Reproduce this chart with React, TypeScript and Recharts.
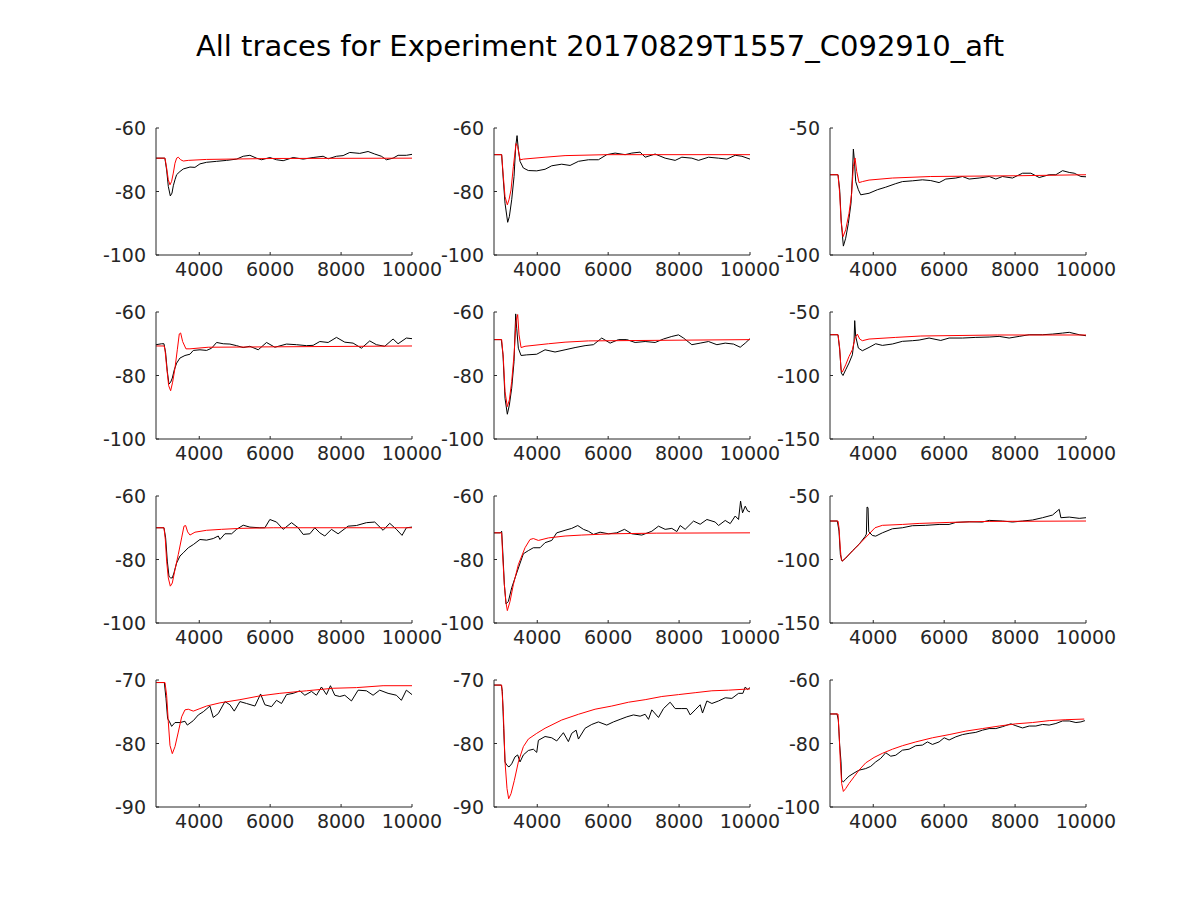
import React from 'react';
import { LineChart, Line, XAxis, YAxis } from 'recharts';

type Pt = [number, number];

// ---------- data (time, membrane potential) ----------
const black1: Pt[] = [[2780,-69.5],[3030,-69.5],[3080,-73.2],[3127,-78.4],[3184,-81.4],[3231,-80.5],[3268,-78.2],[3315,-76.3],[3362,-74.7],[3456,-73.7],[3550,-72.9],[3738,-72.3],[3878,-72.4],[4020,-71.3],[4207,-70.8],[4490,-70.5],[4771,-70.2],[5053,-69.8],[5240,-68.9],[5428,-68.6],[5616,-69.5],[5757,-70.0],[5991,-69.3],[6179,-70.0],[6367,-70.3],[6649,-69.3],[6931,-69.8],[7212,-69.3],[7494,-68.9],[7635,-69.7],[7870,-68.9],[8057,-68.7],[8245,-67.7],[8527,-68.0],[8761,-67.4],[8949,-68.2],[9137,-68.9],[9278,-70.0],[9466,-69.5],[9607,-68.6],[9841,-68.6],[10000,-68.3]];
const red1: Pt[] = [[2780,-69.5],[3034,-69.5],[3080,-72.6],[3127,-76.3],[3174,-77.9],[3221,-76.8],[3268,-74.2],[3315,-71.1],[3362,-69.5],[3409,-69.2],[3475,-70.0],[3550,-70.4],[3690,-70.2],[4207,-69.9],[6085,-69.6],[10000,-69.5]];

const black2: Pt[] = [[2780,-68.4],[2996,-68.4],[3043,-76.3],[3091,-83.7],[3166,-89.7],[3213,-87.9],[3279,-82.6],[3345,-75.3],[3392,-65.8],[3430,-62.4],[3467,-66.8],[3514,-70.5],[3608,-72.6],[3749,-73.4],[3985,-73.5],[4220,-73.0],[4408,-71.9],[4690,-71.4],[4925,-71.8],[5161,-70.5],[5443,-70.0],[5725,-70.0],[5960,-68.4],[6196,-67.9],[6478,-68.4],[6666,-67.9],[6901,-67.6],[7043,-69.2],[7325,-68.2],[7607,-69.5],[7889,-70.2],[8078,-69.2],[8360,-69.5],[8548,-70.2],[8830,-69.2],[9113,-69.5],[9348,-69.8],[9583,-68.6],[9772,-68.9],[10000,-69.8]];
const red2: Pt[] = [[2780,-68.4],[2996,-68.4],[3043,-75.3],[3091,-81.6],[3156,-84.2],[3203,-82.6],[3260,-79.5],[3326,-72.1],[3401,-64.9],[3448,-65.8],[3514,-70.0],[3608,-69.8],[4220,-69.2],[4784,-68.7],[5960,-68.4],[10000,-68.4]];

const black3: Pt[] = [[2780,-68.4],[3006,-68.4],[3053,-74.3],[3100,-87.5],[3157,-96.5],[3222,-93.4],[3298,-87.5],[3373,-79.6],[3411,-69.1],[3439,-58.3],[3467,-62.5],[3505,-71.1],[3580,-74.3],[3646,-76.3],[3881,-75.7],[4116,-74.3],[4351,-73.3],[4634,-71.9],[4822,-71.1],[5104,-70.8],[5387,-70.4],[5622,-70.7],[5857,-71.5],[6045,-70.1],[6328,-69.7],[6516,-69.1],[6704,-70.1],[6986,-69.7],[7269,-69.1],[7457,-70.1],[7645,-69.1],[7927,-69.7],[8210,-67.8],[8445,-67.8],[8680,-69.5],[8962,-68.4],[9150,-68.4],[9339,-66.8],[9527,-67.5],[9668,-67.8],[9856,-69.1],[10000,-69.2]];
const red3: Pt[] = [[2780,-68.4],[3006,-68.4],[3053,-75.7],[3091,-86.2],[3147,-92.8],[3222,-90.1],[3316,-83.6],[3392,-75.7],[3439,-65.1],[3486,-61.8],[3533,-67.1],[3599,-71.5],[3693,-71.1],[3881,-70.5],[4540,-69.7],[5622,-69.1],[8022,-68.8],[10000,-68.4]];

const black4: Pt[] = [[2780,-70.3],[2940,-70.0],[3005,-70.0],[3052,-72.9],[3099,-78.7],[3146,-82.7],[3193,-82.1],[3240,-80.8],[3296,-78.2],[3362,-76.1],[3456,-74.5],[3597,-73.7],[3738,-73.3],[3832,-72.1],[4020,-71.9],[4207,-72.1],[4348,-71.4],[4489,-69.6],[4677,-70.0],[4865,-70.1],[5052,-70.6],[5240,-71.2],[5428,-70.8],[5663,-71.9],[5897,-69.6],[6132,-71.1],[6461,-70.1],[6743,-70.3],[7024,-70.6],[7212,-70.5],[7400,-69.3],[7635,-69.6],[7870,-68.0],[8104,-69.5],[8339,-69.8],[8574,-71.4],[8808,-69.1],[8996,-70.3],[9231,-70.8],[9466,-68.5],[9607,-70.0],[9841,-68.2],[10000,-68.4]];
const red4: Pt[] = [[2780,-70.7],[3010,-70.7],[3034,-71.9],[3080,-77.2],[3137,-83.2],[3193,-84.8],[3249,-82.1],[3315,-77.7],[3381,-71.9],[3437,-66.9],[3475,-66.6],[3531,-69.3],[3625,-71.6],[3738,-71.6],[4254,-71.1],[10000,-70.7]];

const black5: Pt[] = [[2780,-68.7],[2987,-68.7],[3034,-73.5],[3091,-87.2],[3156,-92.2],[3213,-89.3],[3279,-84.0],[3345,-75.6],[3392,-60.6],[3420,-65.1],[3467,-71.4],[3543,-73.7],[3702,-73.5],[3985,-73.3],[4220,-71.9],[4502,-72.6],[4784,-71.9],[5067,-71.2],[5349,-70.6],[5584,-70.3],[5819,-68.2],[6055,-69.8],[6290,-68.7],[6525,-68.7],[6760,-69.6],[7043,-69.3],[7325,-69.6],[7560,-68.5],[7795,-67.7],[7984,-67.2],[8125,-68.2],[8360,-70.3],[8595,-69.8],[8830,-69.3],[9066,-70.3],[9301,-69.8],[9536,-70.1],[9724,-71.1],[9866,-69.8],[10000,-68.4]];
const red5: Pt[] = [[2780,-68.7],[2996,-68.7],[3043,-74.5],[3091,-85.1],[3156,-89.8],[3213,-87.7],[3279,-81.9],[3345,-73.5],[3401,-62.9],[3448,-60.8],[3486,-67.2],[3543,-71.2],[3655,-70.8],[4314,-70.0],[4784,-69.5],[5443,-69.1],[10000,-68.7]];

const black6: Pt[] = [[2780,-67.9],[3006,-67.9],[3053,-79.7],[3100,-98.1],[3147,-100.0],[3222,-95.5],[3316,-90.2],[3411,-83.7],[3458,-73.1],[3477,-56.8],[3505,-69.2],[3580,-78.4],[3693,-80.5],[3881,-77.9],[4069,-75.0],[4257,-76.3],[4540,-75.2],[4822,-73.1],[5104,-72.6],[5293,-72.1],[5575,-70.5],[5904,-72.4],[6139,-70.5],[6516,-70.5],[6892,-70.0],[7269,-69.7],[7551,-69.2],[7833,-70.5],[8116,-69.2],[8398,-67.9],[8774,-67.9],[9056,-67.4],[9339,-66.6],[9527,-66.0],[9809,-67.9],[10000,-68.7]];
const red6: Pt[] = [[2780,-67.9],[3006,-67.9],[3053,-78.4],[3091,-95.5],[3128,-97.3],[3222,-91.6],[3316,-85.0],[3411,-79.7],[3486,-70.5],[3552,-67.4],[3618,-71.3],[3693,-72.6],[3881,-71.3],[4634,-70.0],[5340,-68.9],[7504,-68.1],[10000,-68.1]];

const black7: Pt[] = [[2780,-70.0],[3005,-70.0],[3052,-73.2],[3099,-80.5],[3146,-85.3],[3193,-85.8],[3240,-85.8],[3287,-84.2],[3362,-81.1],[3456,-78.9],[3550,-77.9],[3691,-76.3],[3832,-75.3],[4020,-73.7],[4207,-73.9],[4395,-73.4],[4536,-72.6],[4583,-73.7],[4724,-71.9],[4912,-71.9],[5052,-70.5],[5240,-69.2],[5428,-69.8],[5710,-70.0],[5851,-70.0],[5991,-67.4],[6179,-68.2],[6367,-70.5],[6602,-68.4],[6790,-70.0],[6931,-72.1],[7118,-71.9],[7259,-70.0],[7400,-71.6],[7541,-72.6],[7729,-70.5],[7916,-71.9],[8198,-69.5],[8433,-69.3],[8715,-68.4],[8949,-68.2],[9184,-70.8],[9372,-68.6],[9560,-70.5],[9719,-72.4],[9841,-70.0],[10000,-69.8]];
const red7: Pt[] = [[2780,-70.0],[3005,-70.0],[3043,-73.7],[3080,-80.5],[3127,-85.8],[3184,-88.4],[3240,-87.4],[3315,-83.2],[3409,-78.4],[3503,-73.2],[3569,-69.5],[3616,-69.3],[3672,-71.3],[3738,-72.3],[3879,-71.4],[4207,-70.8],[4630,-70.5],[5146,-70.2],[6085,-70.0],[10000,-70.0]];

const black8: Pt[] = [[2780,-71.6],[2959,-71.6],[2996,-71.1],[3034,-78.9],[3072,-87.9],[3119,-94.0],[3185,-93.2],[3279,-88.9],[3373,-85.8],[3486,-82.1],[3608,-78.2],[3749,-77.2],[3890,-76.3],[4079,-76.3],[4220,-74.7],[4408,-74.0],[4549,-71.6],[4784,-70.8],[4972,-70.2],[5142,-69.3],[5302,-70.5],[5443,-71.1],[5584,-72.1],[5772,-71.4],[6008,-71.9],[6243,-71.6],[6459,-70.5],[6666,-71.9],[6949,-72.3],[7231,-71.1],[7419,-69.5],[7607,-70.5],[7795,-70.2],[7937,-71.2],[8031,-69.3],[8172,-70.5],[8407,-67.9],[8595,-68.9],[8784,-67.4],[9019,-68.2],[9113,-69.3],[9301,-67.7],[9442,-68.7],[9583,-66.3],[9677,-67.4],[9734,-61.6],[9790,-65.3],[9866,-63.2],[9932,-64.7],[10000,-65.0]];
const red8: Pt[] = [[2780,-71.6],[2996,-71.6],[3025,-78.9],[3072,-87.9],[3119,-93.7],[3156,-96.1],[3232,-93.2],[3326,-87.9],[3467,-81.6],[3655,-76.3],[3796,-73.7],[3890,-73.4],[4032,-74.0],[4314,-73.2],[4784,-72.6],[5255,-72.3],[6102,-71.9],[7372,-71.7],[10000,-71.6]];

const black9: Pt[] = [[2780,-69.7],[2987,-69.7],[3034,-77.6],[3072,-96.0],[3119,-101.3],[3222,-99.0],[3411,-93.2],[3599,-88.0],[3768,-82.0],[3806,-80.0],[3824,-58.7],[3853,-59.2],[3872,-78.0],[3975,-81.1],[4069,-81.6],[4257,-79.0],[4540,-75.8],[4822,-75.0],[5104,-73.4],[5481,-73.1],[5857,-72.4],[6139,-72.4],[6328,-70.8],[6704,-70.3],[7080,-70.5],[7269,-69.2],[7645,-69.7],[7927,-70.5],[8210,-69.7],[8492,-68.9],[8774,-67.1],[9056,-65.0],[9244,-60.5],[9291,-67.1],[9527,-66.6],[9809,-67.6],[10000,-67.1]];
const red9: Pt[] = [[2780,-69.7],[3006,-69.7],[3034,-75.0],[3072,-92.1],[3100,-100.0],[3128,-101.3],[3505,-90.8],[4050,-75.0],[4257,-73.1],[4822,-72.4],[5293,-71.6],[6139,-70.8],[7269,-70.0],[10000,-69.7]];

const black10: Pt[] = [[2780,-70.4],[3015,-70.4],[3062,-72.9],[3108,-76.1],[3155,-76.5],[3221,-77.3],[3315,-76.7],[3456,-76.7],[3597,-76.5],[3663,-77.1],[3832,-76.4],[3973,-75.5],[4113,-75.0],[4301,-74.1],[4395,-75.9],[4536,-75.3],[4724,-73.4],[4865,-73.9],[4987,-74.9],[5146,-73.4],[5334,-73.7],[5570,-74.1],[5729,-72.2],[5851,-73.9],[6038,-74.2],[6179,-73.2],[6320,-73.7],[6461,-72.3],[6649,-72.1],[6837,-71.7],[6978,-72.4],[7165,-71.8],[7306,-72.4],[7447,-71.1],[7588,-72.3],[7700,-70.9],[7823,-72.4],[7963,-72.6],[8104,-72.4],[8292,-73.3],[8480,-71.6],[8715,-71.7],[8902,-72.4],[9090,-71.6],[9325,-72.1],[9560,-72.4],[9700,-73.2],[9841,-71.6],[10000,-72.3]];
const red10: Pt[] = [[2780,-70.4],[3034,-70.4],[3080,-72.4],[3127,-76.6],[3174,-80.3],[3240,-81.6],[3315,-80.5],[3409,-78.2],[3503,-75.8],[3597,-74.7],[3691,-74.6],[3832,-74.9],[4020,-74.5],[4207,-74.1],[4583,-73.6],[5146,-73.1],[5710,-72.5],[6273,-72.1],[7024,-71.7],[7776,-71.3],[8433,-71.2],[9184,-70.9],[10000,-70.9]];

const black11: Pt[] = [[2780,-70.8],[2987,-70.8],[3015,-71.8],[3053,-77.6],[3091,-82.9],[3138,-83.4],[3203,-83.7],[3279,-83.2],[3373,-82.1],[3448,-81.8],[3514,-82.9],[3608,-81.8],[3749,-81.1],[3890,-80.9],[3985,-81.4],[4032,-79.5],[4220,-78.9],[4408,-79.1],[4549,-79.6],[4737,-78.3],[4878,-79.7],[4972,-78.4],[5095,-77.9],[5161,-79.3],[5349,-77.6],[5537,-77.0],[5725,-76.6],[5960,-77.1],[6149,-76.6],[6337,-76.2],[6525,-75.8],[6713,-75.5],[6901,-75.7],[7043,-75.4],[7137,-76.2],[7231,-74.7],[7419,-75.9],[7560,-74.5],[7748,-73.5],[7889,-74.5],[8078,-74.5],[8219,-74.5],[8313,-75.5],[8454,-74.7],[8595,-73.9],[8661,-75.2],[8784,-73.3],[8925,-73.7],[9113,-73.3],[9301,-72.8],[9489,-72.9],[9677,-72.1],[9799,-72.1],[9866,-71.1],[9932,-71.5],[10000,-71.2]];
const red11: Pt[] = [[2780,-70.8],[2996,-70.8],[3043,-75.0],[3091,-82.9],[3147,-87.1],[3194,-88.7],[3260,-87.9],[3354,-85.8],[3467,-82.9],[3608,-80.5],[3749,-79.3],[3985,-78.4],[4220,-77.6],[4690,-76.3],[5161,-75.4],[5631,-74.6],[6102,-74.1],[6572,-73.5],[7043,-73.1],[7513,-72.6],[7984,-72.3],[8454,-72.0],[8925,-71.7],[9395,-71.6],[10000,-71.4]];

const black12: Pt[] = [[2780,-70.7],[2978,-70.7],[3015,-72.6],[3053,-80.5],[3091,-85.8],[3109,-91.6],[3157,-92.1],[3222,-91.3],[3316,-90.3],[3458,-89.3],[3599,-88.4],[3787,-87.9],[3928,-87.2],[4069,-85.8],[4210,-84.7],[4351,-82.9],[4493,-84.0],[4634,-83.7],[4822,-82.1],[5010,-81.8],[5198,-80.7],[5387,-80.5],[5528,-79.5],[5669,-80.3],[5857,-79.5],[6000,-78.2],[6139,-78.9],[6328,-77.9],[6516,-77.2],[6704,-76.8],[6892,-76.5],[7080,-75.8],[7269,-75.3],[7457,-75.3],[7645,-74.7],[7880,-73.8],[8022,-74.4],[8210,-75.1],[8398,-74.5],[8586,-74.5],[8774,-74.0],[8962,-74.2],[9150,-73.7],[9339,-72.9],[9527,-72.9],[9715,-73.4],[9856,-73.2],[9969,-72.8]];
const red12: Pt[] = [[2780,-70.7],[3006,-70.7],[3034,-76.3],[3072,-85.8],[3109,-92.6],[3157,-95.1],[3222,-94.2],[3316,-92.6],[3458,-90.5],[3599,-88.4],[3787,-86.1],[4022,-84.4],[4257,-83.1],[4540,-81.8],[4822,-80.7],[5198,-79.5],[5669,-78.2],[6139,-77.2],[6610,-76.1],[7080,-75.3],[7551,-74.5],[8022,-73.8],[8492,-73.4],[8962,-72.8],[9433,-72.5],[9950,-72.3]];

const yDomains: [number, number][] = [[-100,-60],[-100,-60],[-100,-50],[-100,-60],[-100,-60],[-150,-50],[-100,-60],[-100,-60],[-150,-50],[-90,-70],[-90,-70],[-100,-60]];
const yTickSets: number[][] = [[-100,-80,-60],[-100,-80,-60],[-100,-50],[-100,-80,-60],[-100,-80,-60],[-150,-100,-50],[-100,-80,-60],[-100,-80,-60],[-150,-100,-50],[-90,-80,-70],[-90,-80,-70],[-100,-80,-60]];
const xTicks = [4000, 6000, 8000, 10000];
const xDomain: [number, number] = [2780, 10000];
const blacks = [black1, black2, black3, black4, black5, black6, black7, black8, black9, black10, black11, black12];
const reds = [red1, red2, red3, red4, red5, red6, red7, red8, red9, red10, red11, red12];
const TITLE = 'All traces for Experiment 20170829T1557_C092910_aft';

// ---------- layout ----------
const PLOT_W = 256;
const PLOT_H = 127;
const COL_LEFT = [156, 494, 830];
const ROW_TOP = [128, 312, 496, 680];
const ML = 90, MT = 20, MR = 40, MB = 40;
const AX = '#262626';
const FONT = 'DejaVu Sans';
const FS = 19;

const toRows = (pts: Pt[]) => pts.map(([t, v]) => ({ t, v }));

const YTick = (props: any) => {
  const { y, payload } = props;
  return (
    <g>
      <line x1={ML} x2={ML + 3} y1={y} y2={y} stroke={AX} strokeWidth={1} />
      <text x={ML - 10} y={y + 7} textAnchor="end" fontFamily={FONT} fontSize={FS} fill={AX}>{payload.value}</text>
    </g>
  );
};

const XTick = (props: any) => {
  const { x, payload } = props;
  const base = MT + PLOT_H;
  return (
    <g>
      <line x1={x} x2={x} y1={base} y2={base - 3} stroke={AX} strokeWidth={1} />
      <text x={x} y={base + 21} textAnchor="middle" fontFamily={FONT} fontSize={FS} fill={AX}>{payload.value}</text>
    </g>
  );
};

const Panel = ({ idx }: { idx: number }) => {
  const row = Math.floor(idx / 3);
  const col = idx % 3;
  return (
    <div style={{ position: 'absolute', left: COL_LEFT[col] - ML, top: ROW_TOP[row] - MT }}>
      <LineChart width={ML + PLOT_W + MR} height={MT + PLOT_H + MB} margin={{ top: MT, right: MR, left: 0, bottom: 0 }}>
        <XAxis dataKey="t" type="number" domain={xDomain} ticks={xTicks} interval={0} allowDataOverflow
          height={MB} tickLine={false} axisLine={{ stroke: AX }} tick={(p: any) => <XTick {...p} />} />
        <YAxis type="number" domain={yDomains[idx]} ticks={yTickSets[idx]} interval={0} allowDataOverflow
          width={ML} tickLine={false} axisLine={{ stroke: AX }} tick={(p: any) => <YTick {...p} />} />
        <Line data={toRows(blacks[idx])} dataKey="v" type="linear" stroke="#000000" strokeWidth={1} dot={false} activeDot={false} isAnimationActive={false} />
        <Line data={toRows(reds[idx])} dataKey="v" type="linear" stroke="#ff0000" strokeWidth={1} dot={false} activeDot={false} isAnimationActive={false} />
      </LineChart>
    </div>
  );
};

export default function App() {
  return (
    <div style={{ position: 'absolute', left: 0, top: 0, width: 1200, height: 900, background: '#ffffff' }}>
      <svg width={1200} height={900} style={{ position: 'absolute', left: 0, top: 0 }}>
        <text x={600} y={56} textAnchor="middle" fontFamily={FONT} fontSize={29} fill="#000000">{TITLE}</text>
      </svg>
      {Array.from({ length: 12 }, (_, i) => <Panel key={i} idx={i} />)}
    </div>
  );
}
